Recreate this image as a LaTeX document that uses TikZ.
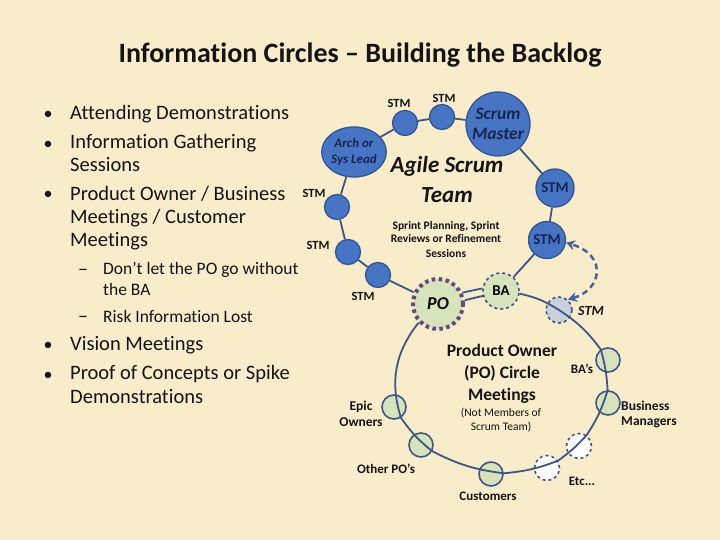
\documentclass[tikz,border=0pt]{standalone}
\usepackage{fontspec}
\setmainfont{Carlito}[Ligatures={TeX,NoCommon}]
\usetikzlibrary{arrows.meta,shapes.geometric}
\definecolor{parch}{RGB}{249,236,203}
\definecolor{ink}{RGB}{20,20,20}
\definecolor{stmblue}{RGB}{72,117,195}
\definecolor{stmedge}{RGB}{48,84,148}
\definecolor{navy}{RGB}{22,36,80}
\definecolor{pogreen}{RGB}{215,227,189}
\definecolor{ringline}{RGB}{62,86,132}
\definecolor{podot}{RGB}{96,74,123}
\definecolor{stmpale}{RGB}{188,202,222}
\definecolor{arrowblue}{RGB}{68,100,160}

\begin{document}
\begin{tikzpicture}[x=1pt,y=-1pt,
  tm/.style={circle,draw=stmedge,line width=1.3pt,fill=stmblue,inner sep=0pt,text=navy,align=center,font=\bfseries\fontsize{15}{15}\selectfont},
  pm/.style={circle,draw=ringline,line width=1.6pt,fill=pogreen,inner sep=0pt,minimum size=24},
  ring/.style={draw=ringline,line width=1.8pt},
  lbl/.style={anchor=base,align=center,inner sep=0pt,text=ink,font=\bfseries\fontsize{12.5}{14}\selectfont},
  big/.style={anchor=base west,align=left,inner sep=0pt,text=ink,font=\fontsize{20.5}{23.5}\selectfont},
  sub/.style={anchor=base west,align=left,inner sep=0pt,text=ink,font=\fontsize{17.5}{20.5}\selectfont},
  dot/.style={anchor=base,text=ink,font=\fontsize{18}{18}\selectfont}]
\useasboundingbox (0,0) rectangle (720,540);
\fill[parch] (0,0) rectangle (720,540);

\node[anchor=base,text=ink,font=\bfseries\fontsize{28}{30}\selectfont] (title) at (360,63) {Information Circles -- Building the Backlog};

% left list (base = last line)
\foreach \n/\y in {b1/120,b2/150,b3/200,b4/350,b5/380} \node[dot] (\n) at (48,\y) {\textbullet};
\node[big] (i1) at (70,120) {Attending Demonstrations};
\node[big] (i2) at (70,172) {Information Gathering\\Sessions};
\node[big] (i3) at (70,247) {Product Owner / Business\\Meetings / Customer\\Meetings};
\foreach \n/\y in {d1/275,d2/322} \node[dot,font=\fontsize{20}{20}\selectfont] (\n) at (83,\y) {--};
\node[sub] (j1) at (103,295) {Don't let the PO go without\\the BA};
\node[sub] (j2) at (103,322) {Risk Information Lost};
\node[big] (i4) at (70,350) {Vision Meetings};
\node[big] (i5) at (70,403) {Proof of Concepts or Spike\\Demonstrations};

% agile scrum team
\node[tm,minimum size=64,font=\bfseries\itshape\fontsize{17.5}{20}\selectfont] (sm) at (498,124) {Scrum\\Master};
\node[tm,ellipse,minimum width=59,minimum height=50,font=\bfseries\itshape\fontsize{13}{16}\selectfont] (arch) at (354,152) {Arch or\\Sys Lead};
\foreach \n/\x/\y in {t1/442/117,t2/405/123,t3/337/207,t4/348/252,t5/378/275}
  \node[tm,minimum size=25] (\n) at (\x,\y) {};
\node[tm,minimum size=38] (t6) at (555,188) {STM};
\node[tm,minimum size=37] (t7) at (547,240) {STM};
\foreach \n/\x/\y in {s1/399/108,s2/444/103,s3/314/198,s4/318/249,s5/363/300}
  \node[lbl] (\n) at (\x,\y) {STM};
\node[lbl,font=\bfseries\itshape\fontsize{23}{30}\selectfont] (ast) at (447,203) {Agile Scrum\\Team};
\node[lbl,font=\bfseries\fontsize{11.5}{14}\selectfont] (spr) at (446,257) {Sprint Planning, Sprint\\Reviews or Refinement\\Sessions};

% PO circle
\node[circle,fill=pogreen,draw=podot,line width=4pt,dash pattern=on 3.5pt off 3.5pt,minimum size=50,inner sep=0pt,font=\bfseries\itshape\fontsize{18}{18}\selectfont] (po) at (438,304) {PO};
\node[pm,dashed,minimum size=36,font=\bfseries\fontsize{15}{15}\selectfont] (ba) at (501,291) {BA};
\node[pm,dashed,fill=stmpale,fill opacity=0.8,text opacity=1,minimum size=26] (sd) at (559,310) {};
\foreach \n/\x/\y in {bas/608/360,bm/608/403,cu/491/474,op/421/445,ep/394/407}
  \node[pm] (\n) at (\x,\y) {};
\foreach \n/\x/\y in {w1/579/446,w2/547/468}
  \node[pm,dashed,fill=white,minimum size=25] (\n) at (\x,\y) {};
\node[lbl,font=\bfseries\itshape\fontsize{14}{14}\selectfont] (sdl) at (591,315) {STM};
\node[lbl,font=\bfseries\fontsize{17.5}{22}\selectfont] (poc) at (502,400) {Product Owner\\(PO) Circle\\Meetings};
\node[lbl,font=\fontsize{11.5}{14}\selectfont] (nm) at (501,430) {(Not Members of\\Scrum Team)};
\node[lbl,font=\bfseries\fontsize{13}{15}\selectfont] (lbas) at (582,373) {BA's};
\node[lbl,anchor=base west,align=left,font=\bfseries\fontsize{13.5}{15}\selectfont] (lbm) at (621,425) {Business\\Managers};
\node[lbl,font=\bfseries\fontsize{13}{15}\selectfont] (letc) at (582,485) {Etc...};
\node[lbl,font=\bfseries\fontsize{13}{15}\selectfont] (lcu) at (488,500) {Customers};
\node[lbl,font=\bfseries\fontsize{13}{15}\selectfont] (lop) at (386,473) {Other PO's};
\node[lbl,font=\bfseries\fontsize{13.5}{16}\selectfont] (lep) at (361,426) {Epic\\Owners};

% rings
\draw[ring] (sm)--(t1)--(t2)--(arch)--(t3)--(t4)--(t5)--(po);
\draw[ring] (sm)--(t6)--(t7)--(ba);
\draw[ring] (po.25)--(ba.172);
\draw[ring] (po.8)--(ba.195);
\draw[ring] (ba) to[bend left=10] (sd.center) to[bend left=10] (bas) to[bend left=6] (bm)
  to[bend left=8] (w1) to[bend left=6] (w2) to[bend left=8] (cu) to[bend left=10] (op)
  to[bend left=8] (ep) to[bend left=28] (po);
\draw[arrowblue,line width=2.5pt,dash pattern=on 6pt off 4pt,{Stealth[length=9pt,width=10pt]}-{Stealth[length=9pt,width=10pt]}]
  (sd.50) .. controls (602,290) and (608,255) .. (t7.-8);
\end{tikzpicture}
\end{document}
